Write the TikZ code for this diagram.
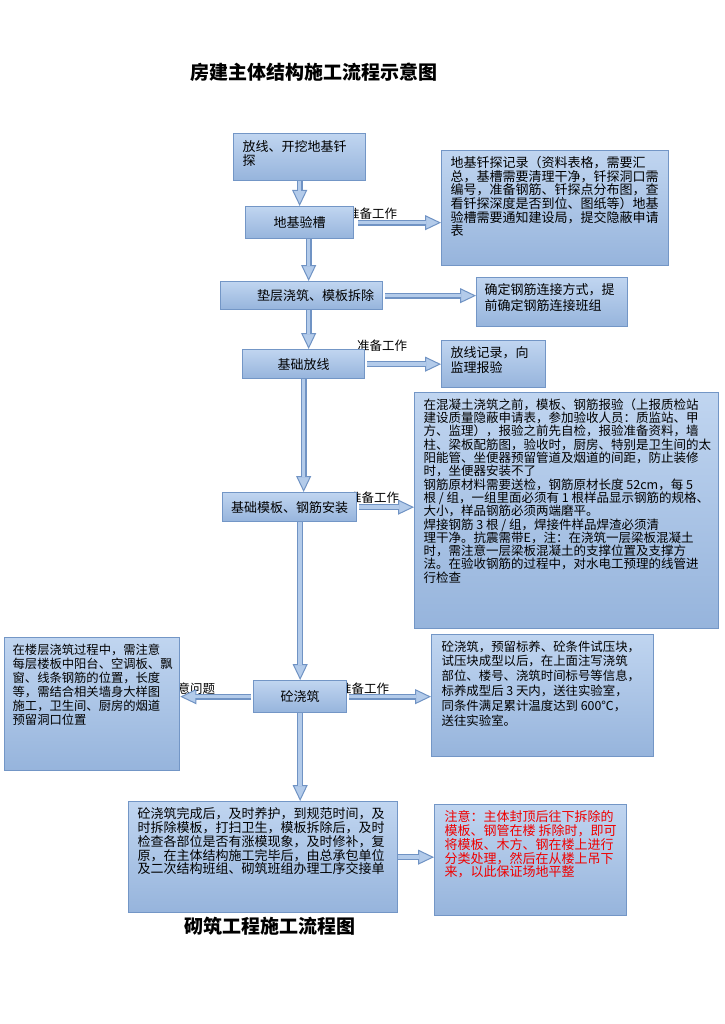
\documentclass[tikz,border=0pt]{standalone}
\usepackage{fontspec}
\setmainfont{Noto Sans CJK SC}
\usetikzlibrary{arrows.meta}
\definecolor{boxtop}{HTML}{C0D5F0}
\definecolor{boxbot}{HTML}{96B4DC}
\definecolor{boxline}{HTML}{7396C6}
\definecolor{arrfill}{HTML}{B3CBEA}
\definecolor{arrline}{HTML}{7093C4}
\definecolor{notered}{HTML}{F00000}
\newcommand{\ptxt}[3]{\parbox[t][#2][t]{#1}{\raggedright\setlength{\parindent}{0pt}#3}}
\begin{document}
\begin{tikzpicture}[x=1pt,y=-1pt,
  box/.style={draw=boxline, line width=1.3pt, top color=boxtop, bottom color=boxbot, anchor=north west, inner sep=0pt, font=\fontsize{13}{13.6}\selectfont},
  note/.style={box, inner xsep=9pt, inner ysep=6pt},
  lab/.style={inner sep=0pt, anchor=west, font=\fontsize{12.5}{13}\selectfont},
  conn/.style={draw=arrline, line width=6pt, -{Triangle[length=16pt,width=15pt,line width=1pt,fill=arrfill,color=arrline]}, postaction={draw=arrfill, line width=3.4pt, -, shorten >=15pt}},
  ttl/.style={inner sep=0pt, font=\fontsize{19}{19}\selectfont\bfseries}]
\fill[white] (0,0) rectangle (724,1024);
\useasboundingbox (0,0) rectangle (724,1024);
% titles
\node[ttl] (title) at (314,72) {房建主体结构施工流程示意图};
\node[ttl] (title2) at (270,926) {砌筑工程施工流程图};
% labels
\node[lab] (l1) at (347,214) {准备工作};
\node[lab] (l2) at (357,346) {准备工作};
\node[lab] (l3) at (349,498) {准备工作};
\node[lab] (l4) at (339,689) {准备工作};
\node[lab] (l5) at (165,689) {注意问题};
% main boxes
\node[box, minimum width=132pt, minimum height=47pt, inner xsep=9pt, inner ysep=7pt] (b1) at (233,133) {\ptxt{114pt}{33pt}{放线、开挖地基钎\\探}};
\node[box, minimum width=108pt, minimum height=32pt] (b2) at (245,206) {地基验槽};
\node[box, minimum width=162pt, minimum height=28pt] (b3) at (220,281) {\hspace*{28pt}垫层浇筑、模板拆除};
\node[box, minimum width=122pt, minimum height=29pt] (b4) at (242,349) {基础放线};
\node[box, minimum width=134pt, minimum height=29pt] (b5) at (222,492) {基础模板、钢筋安装};
\node[box, minimum width=93pt, minimum height=32pt] (b6) at (253,680) {砼浇筑};
\node[note, font=\fontsize{13}{13.8}\selectfont] (b7) at (128,801) {\ptxt{251pt}{99pt}{砼浇筑完成后，及时养护，到规范时间，及\\时拆除模板，打扫卫生，模板拆除后，及时\\检查各部位是否有涨模现象，及时修补，复\\原，在主体结构施工完毕后，由总承包单位\\及二次结构班组、砌筑班组办理工序交接单}};
% notes
\node[note, font=\fontsize{13}{13.6}\selectfont] (n1) at (441,150) {\ptxt{209pt}{103pt}{地基钎探记录（资料表格，需要汇\\总，基槽需要清理干净，钎探洞口需\\编号，准备钢筋、钎探点分布图，查\\看钎探深度是否到位、图纸等）地基\\验槽需要通知建设局，提交隐蔽申请\\表}};
\node[note, inner xsep=8pt, font=\fontsize{13}{15.5}\selectfont] (n2) at (476,277) {\ptxt{135pt}{37pt}{确定钢筋连接方式，提\\前确定钢筋连接班组}};
\node[note, font=\fontsize{13}{15}\selectfont] (n3) at (441,340) {\ptxt{86pt}{35pt}{放线记录，向\\监理报验}};
\node[note, font=\fontsize{12.5}{13.3}\selectfont] (n4) at (414,392) {\ptxt{286pt}{224pt}{在混凝土浇筑之前，模板、钢筋报验（上报质检站\\建设质量隐蔽申请表，参加验收人员：质监站、甲\\方、监理），报验之前先自检，报验准备资料，墙\\柱、梁板配筋图，验收时，厨房、特别是卫生间的太\\阳能管、坐便器预留管道及烟道的间距，防止装修\\时，坐便器安装不了\\钢筋原材料需要送检，钢筋原材长度 52cm，每 5\\根 / 组，一组里面必须有 1 根样品显示钢筋的规格、\\大小，样品钢筋必须两端磨平。\\焊接钢筋 3 根 / 组，焊接件样品焊渣必须清\\理干净。抗震需带E，注：在浇筑一层梁板混凝土\\时，需注意一层梁板混凝土的支撑位置及支撑方\\法。在验收钢筋的过程中，对水电工预理的线管进\\行检查}};
\node[note, inner xsep=10pt, font=\fontsize{12.4}{14.8}\selectfont] (n5) at (431,634) {\ptxt{202pt}{110pt}{砼浇筑，预留标养、砼条件试压块，\\试压块成型以后，在上面注写浇筑\\部位、楼号、浇筑时间标号等信息，\\标养成型后 3 天内，送往实验室，\\同条件满足累计温度达到 600℃，\\送往实验室。}};
\node[note, inner xsep=8pt, font=\fontsize{12.3}{14}\selectfont] (n6) at (4,637) {\ptxt{159pt}{121pt}{在楼层浇筑过程中，需注意\\每层楼板中阳台、空调板、飘\\窗、线条钢筋的位置，长度\\等，需结合相关墙身大样图\\施工，卫生间、厨房的烟道\\预留洞口位置}};
\node[note, inner xsep=10pt, text=notered, font=\fontsize{13}{13.8}\selectfont] (n7) at (434,804) {\ptxt{172pt}{99pt}{注意：主体封顶后往下拆除的\\模板、钢管在楼 拆除时，即可\\将模板、木方、钢在楼上进行\\分类处理，然后在从楼上吊下\\来，以此保证场地平整}};
% connectors
\draw[conn] (b1.south) -- (b1.south |- b2.north);
\draw[conn] ([xshift=9pt]b2.south) -- ([xshift=9pt]b2.south |- b3.north);
\draw[conn] ([xshift=7pt]b3.south) -- ([xshift=7pt]b3.south |- b4.north);
\draw[conn] (b4.south) -- (b4.south |- b5.north);
\draw[conn] (b6.north |- b5.south) -- (b6.north);
\draw[conn] (b6.south) -- (b6.south |- b7.north);
\draw[conn] ([xshift=4pt]b2.east) -- (n1.west |- b2.east);
\draw[conn] ([xshift=2pt]b3.east) -- (n2.west |- b3.east);
\draw[conn] ([xshift=2pt]b4.east) -- (n3.west |- b4.east);
\draw[conn] ([xshift=2pt]b5.east) -- (n4.west |- b5.east);
\draw[conn] ([xshift=2pt]b6.east) -- (n5.west |- b6.east);
\draw[conn] ([xshift=-2pt]b6.west) -- (n6.east |- b6.west);
\draw[conn] (b7.east) -- (n7.west |- b7.east);
\end{tikzpicture}
\end{document}
